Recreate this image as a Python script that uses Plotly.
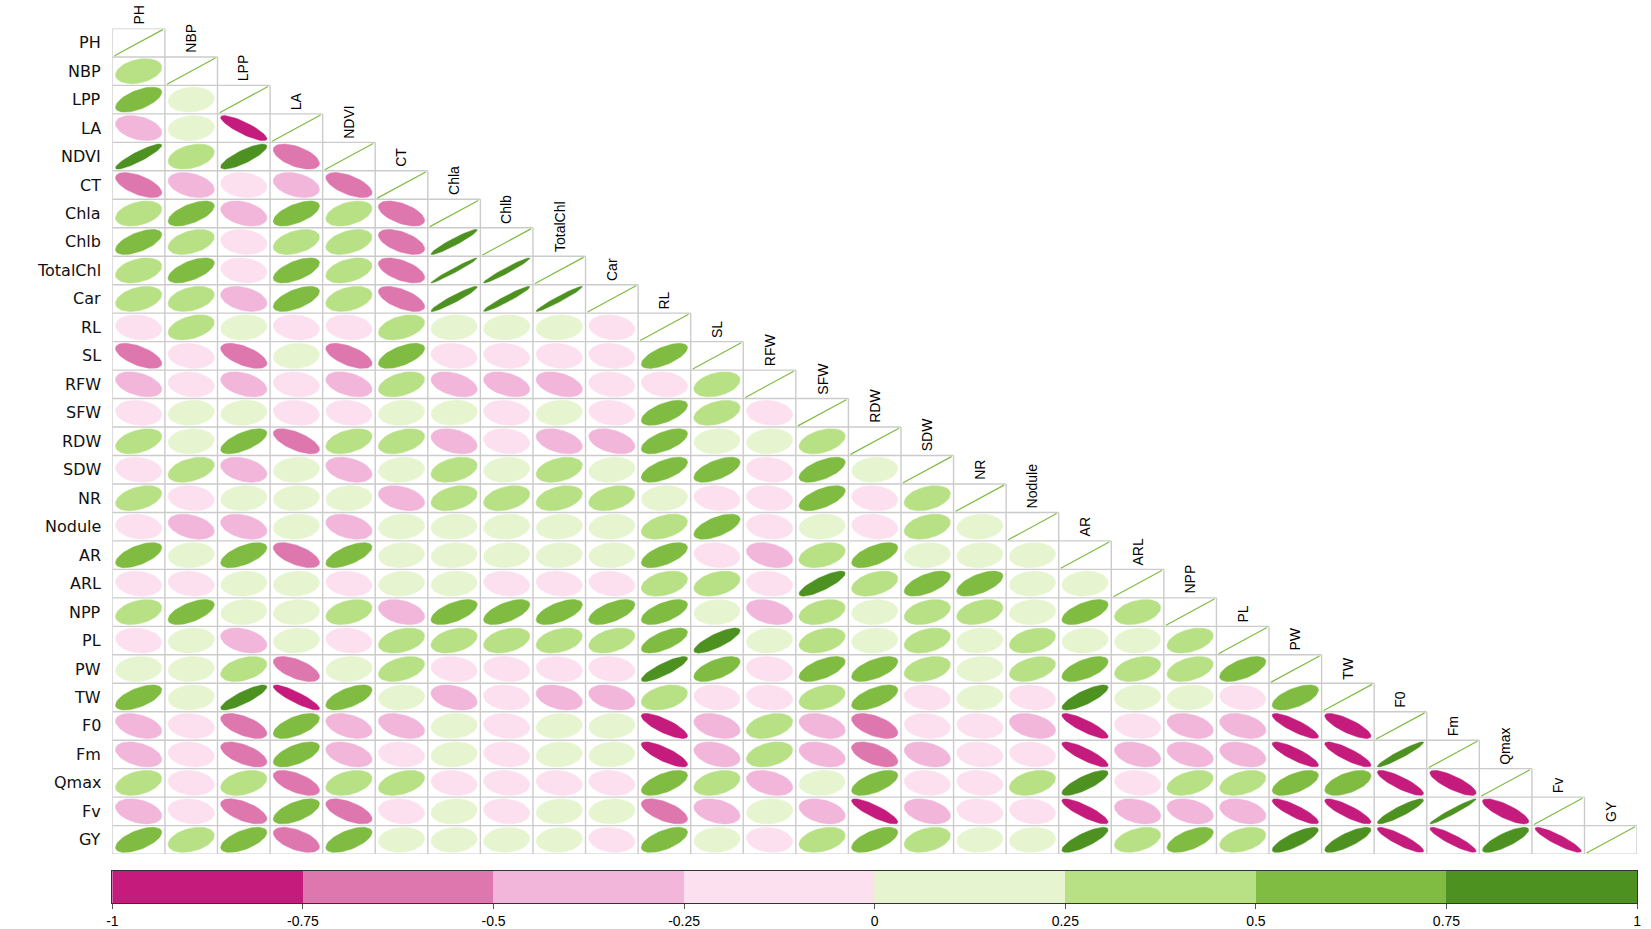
import numpy as np
import plotly.graph_objects as go

names = ["PH", "NBP", "LPP", "LA", "NDVI", "CT", "Chla", "Chlb", "TotalChl", "Car",
         "RL", "SL", "RFW", "SFW", "RDW", "SDW", "NR", "Nodule", "AR", "ARL",
         "NPP", "PL", "PW", "TW", "F0", "Fm", "Qmax", "Fv", "GY"]

# lower triangle: each list holds the correlations of that trait with the traits before it
r_PH = []
r_NBP = [0.3]
r_LPP = [0.6, 0.1]
r_LA = [-0.35, 0.1, -0.85]
r_NDVI = [0.9, 0.35, 0.82, -0.55]
r_CT = [-0.6, -0.35, -0.15, -0.35, -0.6]
r_Chla = [0.35, 0.6, -0.35, 0.6, 0.4, -0.55]
r_Chlb = [0.6, 0.4, -0.15, 0.4, 0.4, -0.55, 0.95]
r_TotalChl = [0.35, 0.6, -0.15, 0.6, 0.4, -0.55, 0.98, 0.97]
r_Car = [0.35, 0.35, -0.35, 0.6, 0.35, -0.6, 0.95, 0.96, 0.97]
r_RL = [-0.15, 0.4, 0.1, -0.15, -0.15, 0.4, 0.1, 0.1, 0.1, -0.15]
r_SL = [-0.6, -0.15, -0.6, 0.1, -0.6, 0.6, -0.15, -0.15, -0.15, -0.15, 0.65]
r_RFW = [-0.4, -0.15, -0.4, -0.15, -0.4, 0.4, -0.4, -0.4, -0.4, -0.15, -0.15, 0.35]
r_SFW = [-0.15, 0.1, 0.1, -0.15, -0.15, 0.1, 0.1, -0.15, 0.1, -0.15, 0.6, 0.4, -0.15]
r_RDW = [0.4, 0.1, 0.65, -0.65, 0.4, 0.4, -0.35, -0.15, -0.4, -0.4, 0.6, 0.1, 0.1, 0.4]
r_SDW = [-0.15, 0.4, -0.35, 0.1, -0.35, 0.1, 0.35, 0.1, 0.35, 0.15, 0.6, 0.6, -0.15, 0.6, 0.1]
r_NR = [0.4, -0.15, 0.1, 0.1, 0.1, -0.35, 0.35, 0.35, 0.35, 0.35, 0.1, -0.15, -0.15, 0.6, -0.15, 0.35]
r_Nodule = [-0.15, -0.35, -0.35, 0.1, -0.35, 0.1, 0.1, 0.1, 0.1, 0.1, 0.4, 0.6, -0.15, 0.1, -0.15,
            0.35, 0.1]
r_AR = [0.6, 0.1, 0.6, -0.6, 0.65, 0.1, 0.1, 0.1, 0.1, 0.1, 0.6, -0.15, -0.35, 0.35, 0.6, 0.1,
        0.1, 0.1]
r_ARL = [-0.15, -0.15, 0.1, 0.1, -0.15, 0.1, 0.1, -0.15, -0.15, -0.15, 0.35, 0.35, -0.15, 0.82,
         0.4, 0.6, 0.6, 0.1, 0.1]
r_NPP = [0.35, 0.6, 0.1, 0.1, 0.35, -0.35, 0.6, 0.6, 0.6, 0.6, 0.6, 0.1, -0.35, 0.35, 0.1, 0.35,
         0.35, 0.1, 0.6, 0.35]
r_PL = [-0.15, 0.1, -0.35, 0.1, -0.15, 0.35, 0.35, 0.35, 0.35, 0.4, 0.65, 0.8, 0.1, 0.35, 0.1,
        0.35, 0.1, 0.35, 0.1, 0.1, 0.4]
r_PW = [0.1, 0.1, 0.4, -0.6, 0.1, 0.4, -0.15, -0.15, -0.15, -0.15, 0.85, 0.6, -0.15, 0.6, 0.6,
        0.35, 0.1, 0.4, 0.6, 0.35, 0.4, 0.6]
r_TW = [0.6, 0.1, 0.85, -0.88, 0.6, 0.1, -0.35, -0.15, -0.35, -0.35, 0.35, -0.15, -0.15, 0.35,
        0.6, -0.15, 0.1, -0.15, 0.8, 0.1, 0.1, -0.15, 0.6]
r_F0 = [-0.4, -0.15, -0.6, 0.6, -0.4, -0.4, 0.1, -0.15, 0.1, 0.1, -0.8, -0.35, 0.35, -0.35,
        -0.55, -0.15, -0.15, -0.35, -0.85, -0.15, -0.35, -0.35, -0.85, -0.8]
r_Fm = [-0.4, -0.15, -0.6, 0.6, -0.4, -0.15, 0.1, -0.15, 0.1, 0.1, -0.8, -0.35, 0.35, -0.35,
        -0.55, -0.35, -0.15, -0.15, -0.85, -0.35, -0.35, -0.35, -0.85, -0.85, 0.95]
r_Qmax = [0.35, -0.15, 0.35, -0.6, 0.35, 0.4, -0.15, -0.15, -0.15, -0.15, 0.6, 0.35, -0.35, 0.1,
          0.6, -0.15, -0.15, 0.35, 0.8, -0.15, 0.4, 0.4, 0.6, 0.55, -0.85, -0.8]
r_Fv = [-0.35, -0.15, -0.6, 0.6, -0.6, -0.15, 0.1, -0.15, 0.1, 0.1, -0.6, -0.35, 0.1, -0.35,
        -0.85, -0.35, -0.15, -0.15, -0.85, -0.35, -0.35, -0.35, -0.85, -0.85, 0.9, 0.97, -0.8]
r_GY = [0.6, 0.35, 0.6, -0.55, 0.6, 0.1, 0.1, 0.1, 0.1, -0.15, 0.6, 0.1, -0.15, 0.35, 0.6, 0.35,
        0.1, 0.1, 0.8, 0.4, 0.6, 0.4, 0.8, 0.8, -0.88, -0.9, 0.8, -0.9]

rows = [r_PH, r_NBP, r_LPP, r_LA, r_NDVI, r_CT, r_Chla, r_Chlb, r_TotalChl, r_Car, r_RL, r_SL,
        r_RFW, r_SFW, r_RDW, r_SDW, r_NR, r_Nodule, r_AR, r_ARL, r_NPP, r_PL, r_PW, r_TW,
        r_F0, r_Fm, r_Qmax, r_Fv, r_GY]

breaks = [-1, -0.75, -0.5, -0.25, 0, 0.25, 0.5, 0.75, 1]
break_labels = ["-1", "-0.75", "-0.5", "-0.25", "0", "0.25", "0.5", "0.75", "1"]
colors = ["#C51B7D", "#DE77AE", "#F1B6DA", "#FDE0EF", "#E6F5D0", "#B8E186", "#7FBC41", "#4D9221"]

n = len(names)


def ellipse(rho, cx, cy, scale=0.88, npts=60):
    # corrplot style ellipse inside a unit cell
    k = np.linspace(0, 2 * np.pi, npts)
    d = np.arccos(np.clip(rho, -1, 1)) / 2
    return cx + np.cos(k + d) / 2 * scale, cy + np.cos(k - d) / 2 * scale


def bin_of(v):
    return min(int((v + 1) / 0.25), 7)


fig = go.Figure()

# one filled trace per colour bin
ex = [[] for _ in colors]
ey = [[] for _ in colors]
for i, row in enumerate(rows):
    for j, v in enumerate(row):
        x, y = ellipse(v, j + 0.5, n - i - 0.5)
        b = bin_of(v)
        ex[b] += list(x) + [None]
        ey[b] += list(y) + [None]

for b, c in enumerate(colors):
    if ex[b]:
        fig.add_trace(go.Scatter(x=ex[b], y=ey[b], mode="lines", fill="toself",
                                 fillcolor=c, line=dict(color=c, width=0.5),
                                 hoverinfo="skip", showlegend=False))

# grid of the lower triangle
gx, gy = [], []
for i in range(n + 1):
    gx += [0, min(i + 1, n), None]
    gy += [n - i, n - i, None]
for k in range(n + 1):
    gx += [k, k, None]
    gy += [0, n - max(k - 1, 0), None]
fig.add_trace(go.Scatter(x=gx, y=gy, mode="lines", line=dict(color="#cbcbcb", width=1.4),
                         hoverinfo="skip", showlegend=False))

# diagonal: r = 1 gives a line
dx, dy = [], []
for i in range(n):
    x, y = ellipse(1.0, i + 0.5, n - i - 0.5, scale=0.92, npts=3)
    dx += list(x) + [None]
    dy += list(y) + [None]
fig.add_trace(go.Scatter(x=dx, y=dy, mode="lines", line=dict(color="#7FBC41", width=1.2),
                         hoverinfo="skip", showlegend=False))

# colour legend
centers = [(breaks[k] + breaks[k + 1]) / 2 for k in range(len(colors))]
fig.add_trace(go.Bar(x=centers, y=[1] * len(colors), width=0.25, marker_color=colors,
                     marker_line_width=0, xaxis="x2", yaxis="y2", hoverinfo="skip",
                     showlegend=False))

ann = []
for i, nm in enumerate(names):
    ann.append(dict(x=0, y=n - i - 0.5, xref="x", yref="y", text=nm,
                    showarrow=False, xanchor="right", yanchor="middle", xshift=-9,
                    font=dict(family="DejaVu Sans", size=16, color="#111")))
    ann.append(dict(x=i + 0.5, y=n - i, xref="x", yref="y", text=nm, showarrow=False,
                    xanchor="center", yanchor="bottom", textangle=-90, yshift=2,
                    font=dict(family="Liberation Sans", size=14, color="black")))

W, H = 1651, 929
xdom = [107 / W, 1641 / W]
fig.update_layout(
    width=W, height=H, margin=dict(l=0, r=0, t=0, b=0),
    plot_bgcolor="white", paper_bgcolor="white",
    xaxis=dict(range=[0, n], domain=xdom, visible=False),
    yaxis=dict(range=[0, n], domain=[1 - 855 / H, 1 - 28.5 / H], visible=False),
    xaxis2=dict(range=[-1, 1], domain=xdom, anchor="y2", tickvals=breaks, ticktext=break_labels,
                ticks="outside", ticklen=5, tickcolor="#555", showline=True, mirror=True,
                linecolor="#333", linewidth=1, showgrid=False, zeroline=False,
                tickfont=dict(family="Liberation Sans", size=14, color="black")),
    yaxis2=dict(range=[0, 1], domain=[1 - 904 / H, 1 - 872 / H], anchor="x2", showline=True,
                mirror=True, linecolor="#333", linewidth=1, showticklabels=False, ticks="",
                showgrid=False, zeroline=False),
    bargap=0,
    annotations=ann,
)

fig.write_html("out.html", config={"displayModeBar": False},
               post_script="document.body.style.margin='0px';")
